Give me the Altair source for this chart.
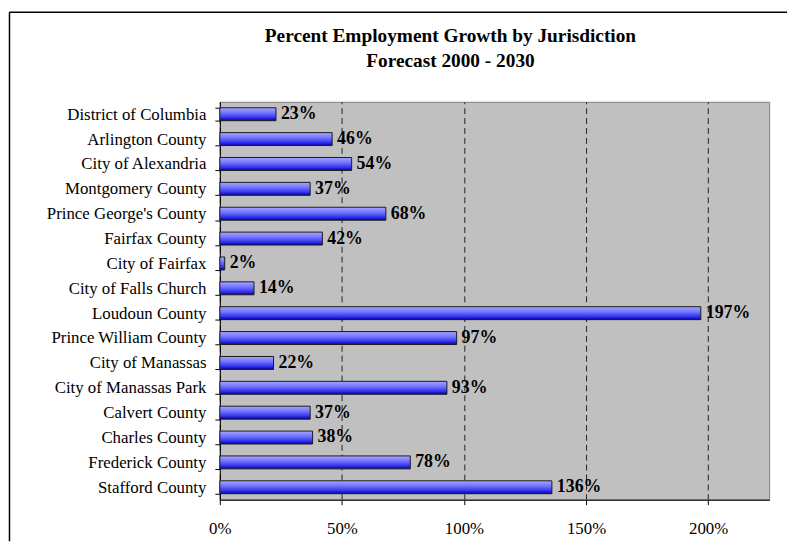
import altair as alt
import pandas as pd

jurisdictions = [
    "District of Columbia", "Arlington County", "City of Alexandria",
    "Montgomery County", "Prince George's County\u00a0", "Fairfax County",
    "City of Fairfax", "City of Falls Church", "Loudoun County",
    "Prince William County\u00a0", "City of Manassas", "City of Manassas Park",
    "Calvert County", "Charles County", "Frederick County", "Stafford County\u00a0",
]
growth_pct = [23, 46, 54, 37, 68, 42, 2, 14, 197, 97, 22, 93, 37, 38, 78, 136]
x_ticks = [0, 50, 100, 150, 200]
title_line1 = "Percent Employment Growth by Jurisdiction"
title_line2 = "Forecast 2000 - 2030"

df = pd.DataFrame({
    "name": jurisdictions,
    "pct": growth_pct,
    "label": [f"{v}%" for v in growth_pct],
})

FONT = "Liberation Serif"

grad = alt.LinearGradient(
    gradient="linear",
    stops=[
        alt.GradientStop(color="#A6A6FF", offset=0),
        alt.GradientStop(color="#7373FF", offset=0.4),
        alt.GradientStop(color="#3535F0", offset=0.75),
        alt.GradientStop(color="#0000A8", offset=1),
    ],
    x1=0, x2=0, y1=0, y2=1,
)

y_enc = alt.Y(
    "name:N", sort=jurisdictions,
    scale=alt.Scale(paddingInner=0.48, paddingOuter=0.24),
    axis=alt.Axis(
        title=None, labelFont=FONT, labelFontSize=17, labelColor="black",
        labelPadding=9, tickSize=5, tickColor="black", tickBand="extent",
        domainColor="black", labelLimit=0, grid=False,
    ),
)
x_enc = alt.X(
    "pct:Q",
    scale=alt.Scale(domain=[0, 225], nice=False, zero=True),
    axis=alt.Axis(
        values=x_ticks, labelExpr="datum.value + '%'", title=None,
        grid=True, gridDash=[6, 4], gridColor="#222222", gridWidth=1,
        tickSize=5, tickColor="black", domainColor="#333333", domainWidth=1.5,
        labelFont=FONT, labelFontSize=17, labelPadding=16, labelColor="black",
        labelFlush=False,
    ),
)

bars = alt.Chart(df).mark_bar(color=grad, stroke="#1a1a1a", strokeWidth=1).encode(
    x=x_enc, y=y_enc
)
text = alt.Chart(df).mark_text(
    align="left", baseline="middle", dx=5, font=FONT, fontSize=18,
    fontWeight="bold", color="black",
).encode(x="pct:Q", y=alt.Y("name:N", sort=jurisdictions), text="label:N")

one = pd.DataFrame({"a": [0]})
border_top = alt.Chart(one).mark_rule(color="black", strokeWidth=1.5).encode(
    x=alt.value(-212.5), x2=alt.value(573), y=alt.value(-90.5)
)
border_left = alt.Chart(one).mark_rule(color="black", strokeWidth=1.5).encode(
    x=alt.value(-212.5), y=alt.value(-90.5), y2=alt.value(444)
)
title1 = alt.Chart(one).mark_text(
    font=FONT, fontSize=19.5, fontWeight="bold", color="black",
    align="center", baseline="alphabetic",
).encode(x=alt.value(233), y=alt.value(-60), text=alt.value(title_line1))
title2 = alt.Chart(one).mark_text(
    font=FONT, fontSize=19.5, fontWeight="bold", color="black",
    align="center", baseline="alphabetic",
).encode(x=alt.value(233), y=alt.value(-35), text=alt.value(title_line2))

chart = alt.layer(bars, text, border_top, border_left, title1, title2).properties(
    width=555, height=402,
    padding={"left": 214, "top": 92, "right": 18, "bottom": 42},
    autosize=alt.AutoSizeParams(type="none"),
    view=alt.ViewBackground(fill="#C0C0C0", stroke="#808080", strokeWidth=1),
).configure(background="white")

chart.save("out.html", embed_options={"renderer": "svg", "actions": False})
